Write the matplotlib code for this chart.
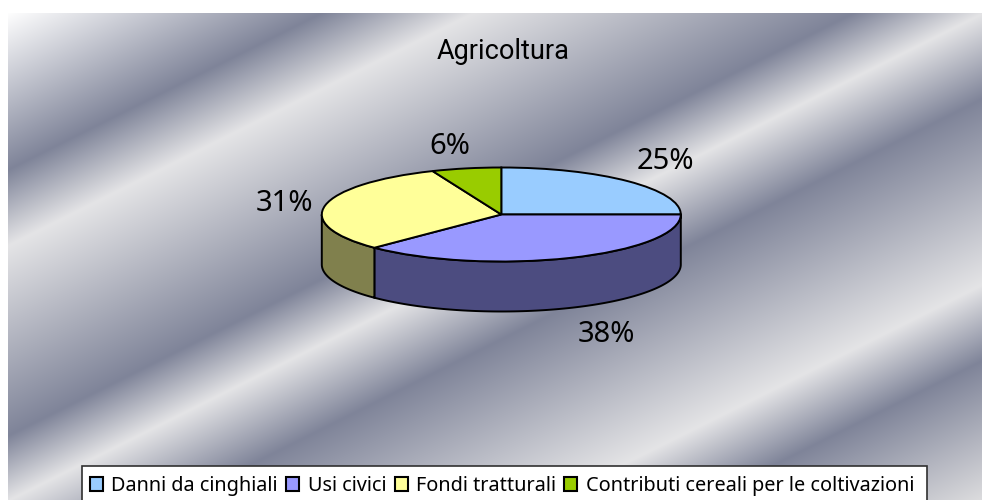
import numpy as np
import matplotlib
matplotlib.use('Agg')
import matplotlib.pyplot as plt
from matplotlib.patches import Rectangle

plt.rcParams['font.family'] = ['Noto Sans', 'DejaVu Sans']

# data
categories = ['Danni da cinghiali', 'Usi civici', 'Fondi tratturali',
              'Contributi cereali per le coltivazioni']
values = [25, 37.5, 31.25, 6.25]
top_colors = ['#99ccff', '#9999ff', '#ffff99', '#99cc00']
side_colors = ['#4d6680', '#4c4c80', '#80804d', '#4d6600']
title = 'Agricoltura'

# background bands: position along y + 0.5x, in pixels
band_pos = [16, 174, 250, 440, 505, 590, 776, 852, 991]
band_col = ['#ffffff', '#7f8499', '#e4e4e6', '#7f8499', '#e4e4e6',
            '#7f8499', '#e4e4e6', '#7f8499', '#dcdcde']

W, H = 982, 500
fig = plt.figure(figsize=(W / 100, H / 100), dpi=100, facecolor='white')

# background gradient
bg = fig.add_axes([0, 0, 1, 1])
bg.axis('off')
xx, yy = np.meshgrid(np.arange(8, W) + 0.5, np.arange(13, H) + 0.5)
u = yy + 0.5 * xx
rgb = np.array([matplotlib.colors.to_rgb(c) for c in band_col])
img = np.dstack([np.interp(u, band_pos, rgb[:, i]) for i in range(3)])
bg.imshow(img, extent=(8, W, H, 13), aspect='auto', interpolation='nearest')
bg.set_xlim(0, W)
bg.set_ylim(H, 0)

# legend box runs off the bottom of the picture
bg.add_patch(Rectangle((82, 466), 845, 50, facecolor='white', edgecolor='#303030',
                       linewidth=1.2, zorder=5))

# pie: top face is a normal pie squashed by a non equal aspect
cx, cy, rx, ry, depth = 501.3, 214.5, 179.5, 47, 50
ax = fig.add_axes([(cx - rx) / W, 1 - (cy + ry) / H, 2 * rx / W, 2 * ry / H])
wedges, _ = ax.pie(values, startangle=90, counterclock=False, colors=top_colors,
                   wedgeprops={'edgecolor': 'black', 'linewidth': 1.4, 'clip_on': False, 'zorder': 3})
ax.set_aspect('auto')
ax.set_xlim(-1, 1)
ax.set_ylim(-1, 1)

# side wall, only the front half can be seen
d = depth / ry
edges = np.cumsum([0] + values) / sum(values) * 360
for i in range(len(values)):
    a0, a1 = max(edges[i], 90), min(edges[i + 1], 270)
    if a1 <= a0:
        continue
    t = np.radians(np.linspace(a0, a1, 100))
    x = np.sin(t)
    y = np.cos(t)
    ax.fill(np.r_[x, x[::-1]], np.r_[y, y[::-1] - d], facecolor=side_colors[i],
            edgecolor='black', linewidth=1.4, clip_on=False, zorder=2)

# texts
fig.text(503.5 / W, 1 - 51.5 / H, title, ha='center', va='center', fontsize=19.5,
         family=['Roboto', 'DejaVu Sans'], color='black')
label_xy = [(665, 161), (606, 334), (284, 204), (450, 146)]
for v, (px, py) in zip(values, label_xy):
    fig.text(px / W, 1 - py / H, f'{v:.0f}%', ha='center', va='center', fontsize=21, color='black')

leg = fig.legend(wedges, categories, ncol=4, loc='upper left',
                 bbox_to_anchor=(90 / W, 1 - 476 / H), fontsize=14.3, frameon=False,
                 handlelength=0.66, handleheight=0.66, handletextpad=0.42,
                 columnspacing=0.42, borderaxespad=0, borderpad=0)
leg.set_zorder(10)
for h in leg.legend_handles:
    h.set_linewidth(1.5)

fig.savefig('out.png', dpi=100)
